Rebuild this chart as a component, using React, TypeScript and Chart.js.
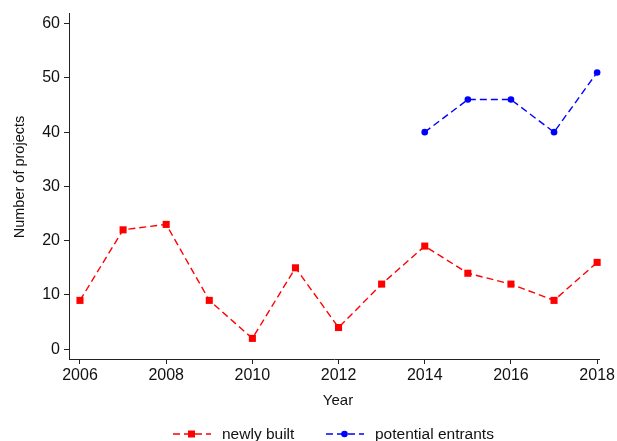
import React, { useEffect, useRef } from "react";
import { Chart, registerables } from "chart.js";

Chart.register(...registerables);

const years = [2006, 2007, 2008, 2009, 2010, 2011, 2012, 2013, 2014, 2015, 2016, 2017, 2018];
const newlyBuilt = [9, 22, 23, 9, 2, 15, 4, 12, 19, 14, 12, 9, 16];
const entrantYears = [2014, 2015, 2016, 2017, 2018];
const potentialEntrants = [40, 46, 46, 40, 51];
const xTicks = [2006, 2008, 2010, 2012, 2014, 2016, 2018];
const yTicks = [0, 10, 20, 30, 40, 50, 60];
const seriesLabels = ["newly built", "potential entrants"];

const FONT = "'Liberation Sans', Arial, Helvetica, sans-serif";
const AXIS = "#222";

const overlay = {
  id: "overlay",
  afterDraw(chart: any) {
    const ctx = chart.ctx;
    ctx.save();
    ctx.fillStyle = "#111";
    // X title
    ctx.font = `15px ${FONT}`;
    ctx.textAlign = "center";
    ctx.textBaseline = "alphabetic";
    ctx.fillText("Year", 338, 405);
    // Y title
    ctx.save();
    ctx.translate(24, 177);
    ctx.rotate(-Math.PI / 2);
    ctx.font = `14.5px ${FONT}`;
    ctx.textAlign = "center";
    ctx.textBaseline = "alphabetic";
    ctx.fillText("Number of projects", 0, 0);
    ctx.restore();
    // Legend
    const ly = 434;
    const items = [
      { x0: 173, color: "#ff0000", style: "rect", label: seriesLabels[0] },
      { x0: 326, color: "#0000ff", style: "circle", label: seriesLabels[1] },
    ];
    items.forEach((it) => {
      ctx.strokeStyle = it.color;
      ctx.lineWidth = 1.4;
      ctx.setLineDash([7, 4]);
      ctx.beginPath();
      ctx.moveTo(it.x0, ly);
      ctx.lineTo(it.x0 + 38, ly);
      ctx.stroke();
      ctx.setLineDash([]);
      ctx.fillStyle = it.color;
      const cx = it.x0 + 18.5;
      if (it.style === "rect") {
        ctx.fillRect(cx - 3.5, ly - 3.5, 7, 7);
      } else {
        ctx.beginPath();
        ctx.arc(cx, ly, 3.3, 0, Math.PI * 2);
        ctx.fill();
      }
      ctx.fillStyle = "#111";
      ctx.font = `15.5px ${FONT}`;
      ctx.textAlign = "left";
      ctx.textBaseline = "middle";
      ctx.fillText(it.label, it.x0 + 49, ly + 1);
    });
    ctx.restore();
  },
};

export default function App() {
  const ref = useRef<HTMLCanvasElement>(null);
  useEffect(() => {
    document.body.style.margin = "0";
    const canvas = ref.current;
    if (!canvas) return;
    const chart = new Chart(canvas, {
      type: "line",
      data: {
        datasets: [
          {
            label: seriesLabels[0],
            data: years.map((y, i) => ({ x: y, y: newlyBuilt[i] })),
            borderColor: "#ff0000",
            backgroundColor: "#ff0000",
            borderWidth: 1.4,
            borderDash: [7, 4],
            pointStyle: "rect",
            pointRadius: 5,
            pointBorderWidth: 0,
            tension: 0,
            fill: false,
            clip: false,
          },
          {
            label: seriesLabels[1],
            data: entrantYears.map((y, i) => ({ x: y, y: potentialEntrants[i] })),
            borderColor: "#0000ff",
            backgroundColor: "#0000ff",
            borderWidth: 1.4,
            borderDash: [7, 4],
            pointStyle: "circle",
            pointRadius: 3.3,
            pointBorderWidth: 0,
            tension: 0,
            fill: false,
            clip: false,
          },
        ],
      },
      options: {
        responsive: false,
        animation: false,
        layout: { padding: { top: 13, right: 17, left: 0, bottom: 0 } },
        plugins: { legend: { display: false }, tooltip: { enabled: false } },
        scales: {
          x: {
            type: "linear",
            min: 2005.745,
            max: 2018.05,
            afterBuildTicks: (s: any) => {
              s.ticks = xTicks.map((v) => ({ value: v }));
            },
            afterFit: (s: any) => {
              s.height = 82;
            },
            ticks: {
              callback: (v: any) => String(v),
              color: "#111",
              font: { family: FONT, size: 16 },
              padding: 2,
              maxRotation: 0,
              autoSkip: false,
            },
            grid: {
              drawOnChartArea: false,
              drawTicks: true,
              tickLength: 5,
              tickColor: AXIS,
              lineWidth: 1,
            },
            border: { display: true, color: AXIS, width: 1 },
          },
          y: {
            type: "linear",
            min: -1.8,
            max: 61.84,
            afterBuildTicks: (s: any) => {
              s.ticks = yTicks.map((v) => ({ value: v }));
            },
            afterFit: (s: any) => {
              s.width = 69;
            },
            ticks: {
              callback: (v: any) => String(v),
              color: "#111",
              font: { family: FONT, size: 16 },
              padding: 4,
              autoSkip: false,
            },
            grid: {
              drawOnChartArea: false,
              drawTicks: true,
              tickLength: 5,
              tickColor: AXIS,
              lineWidth: 1,
            },
            border: { display: true, color: AXIS, width: 1 },
          },
        },
      },
      plugins: [overlay],
    });
    return () => chart.destroy();
  }, []);
  return <canvas ref={ref} width={617} height={441} style={{ display: "block" }} />;
}
